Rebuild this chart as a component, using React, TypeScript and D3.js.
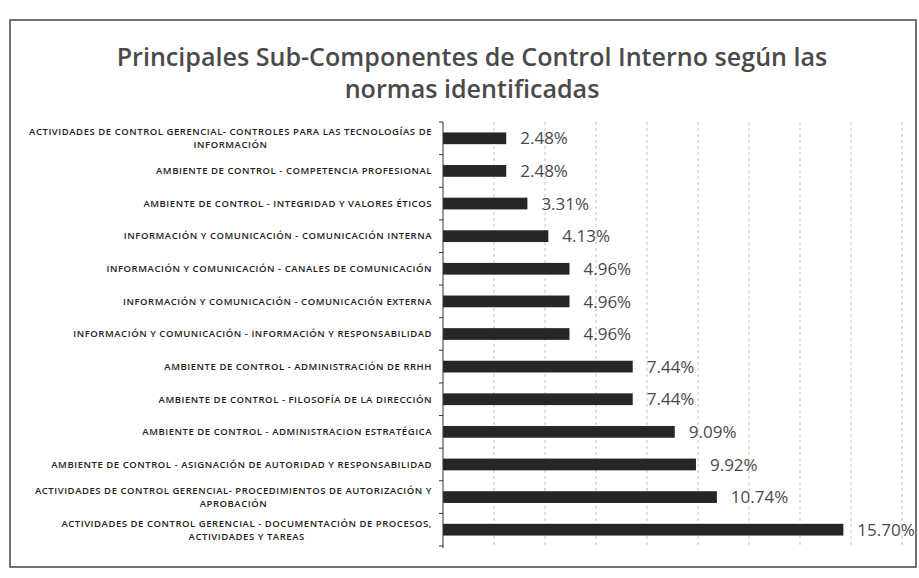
import React, { useEffect, useRef } from 'react'
import * as d3 from 'd3'

// categorías (de arriba hacia abajo), "\n" marca el salto de línea
const categories = [
  'ACTIVIDADES DE CONTROL GERENCIAL- CONTROLES PARA LAS TECNOLOGÍAS DE\nINFORMACIÓN',
  'AMBIENTE DE CONTROL - COMPETENCIA PROFESIONAL',
  'AMBIENTE DE CONTROL - INTEGRIDAD Y VALORES ÉTICOS',
  'INFORMACIÓN Y COMUNICACIÓN - COMUNICACIÓN INTERNA',
  'INFORMACIÓN Y COMUNICACIÓN - CANALES DE COMUNICACIÓN',
  'INFORMACIÓN Y COMUNICACIÓN - COMUNICACIÓN EXTERNA',
  'INFORMACIÓN Y COMUNICACIÓN - INFORMACIÓN Y RESPONSABILIDAD',
  'AMBIENTE DE CONTROL - ADMINISTRACIÓN DE RRHH',
  'AMBIENTE DE CONTROL - FILOSOFÍA DE LA DIRECCIÓN',
  'AMBIENTE DE CONTROL - ADMINISTRACION ESTRATÉGICA',
  'AMBIENTE DE CONTROL - ASIGNACIÓN DE AUTORIDAD Y RESPONSABILIDAD',
  'ACTIVIDADES DE CONTROL GERENCIAL- PROCEDIMIENTOS DE AUTORIZACIÓN Y\nAPROBACIÓN',
  'ACTIVIDADES DE CONTROL GERENCIAL - DOCUMENTACIÓN DE PROCESOS,\nACTIVIDADES Y TAREAS',
]
const values = [2.48, 2.48, 3.31, 4.13, 4.96, 4.96, 4.96, 7.44, 7.44, 9.09, 9.92, 10.74, 15.7]
const gridTicks = [2, 4, 6, 8, 10, 12, 14, 16, 18]
const titleLines = ['Principales Sub-Componentes de Control Interno según las', 'normas identificadas']

const W = 919
const H = 578
const font = '"Open Sans", "Liberation Sans", sans-serif'

const App = () => {
  const svgRef = useRef<SVGSVGElement>(null)

  useEffect(() => {
    const svg = d3.select(svgRef.current)
    svg.selectAll('*').remove()

    const x = d3.scaleLinear().domain([0, 18]).range([443, 902])
    const y = d3.scaleBand<number>()
      .domain(d3.range(categories.length))
      .range([122, 546])
      .paddingInner(0.64)
      .paddingOuter(0.32)

    // marco
    svg.append('rect')
      .attr('x', 10).attr('y', 20)
      .attr('width', 906).attr('height', 547)
      .attr('fill', 'white')
      .attr('stroke', '#444').attr('stroke-width', 1.5)

    // título
    svg.append('text')
      .attr('x', 472).attr('y', 66)
      .attr('text-anchor', 'middle')
      .attr('font-family', font)
      .attr('font-size', 25.1)
      .attr('font-weight', 600)
      .attr('fill', '#4a4a4a')
      .selectAll('tspan')
      .data(titleLines)
      .join('tspan')
      .attr('x', 472)
      .attr('dy', (d, i) => (i === 0 ? 0 : 32))
      .text(d => d)

    // rejilla
    svg.append('g')
      .selectAll('line')
      .data(gridTicks)
      .join('line')
      .attr('x1', d => x(d)).attr('x2', d => x(d))
      .attr('y1', 122).attr('y2', 548)
      .attr('stroke', '#c4c4c4')
      .attr('stroke-dasharray', '3,3')

    // barras
    svg.append('g')
      .selectAll('rect')
      .data(values)
      .join('rect')
      .attr('x', x(0))
      .attr('y', (d, i) => y(i)!)
      .attr('width', d => x(d) - x(0))
      .attr('height', y.bandwidth())
      .attr('fill', '#262626')

    // etiquetas de valor
    svg.append('g')
      .selectAll('text')
      .data(values)
      .join('text')
      .attr('x', d => x(d) + 14)
      .attr('y', (d, i) => y(i)! + y.bandwidth() / 2)
      .attr('dy', '0.36em')
      .attr('font-family', font)
      .attr('font-size', 17)
      .attr('fill', '#4a4a4a')
      .text(d => d3.format('.2f')(d) + '%')

    // eje vertical
    const axis = svg.append('g').attr('stroke', '#333')
    axis.append('line')
      .attr('x1', x(0)).attr('x2', x(0))
      .attr('y1', 122).attr('y2', 548)
    axis.selectAll('line.tick')
      .data(d3.range(categories.length + 1))
      .join('line')
      .attr('class', 'tick')
      .attr('x1', x(0) - 4).attr('x2', x(0))
      .attr('y1', i => 122 + i * y.step())
      .attr('y2', i => 122 + i * y.step())

    // etiquetas de categoría
    const labels = svg.append('g')
      .attr('font-family', font)
      .attr('font-size', 9.5)
      .attr('font-weight', 600)
      .attr('letter-spacing', 0.55)
      .attr('fill', '#222')
    categories.forEach((c, i) => {
      const lines = c.split('\n')
      const cy = y(i)! + y.bandwidth() / 2
      const lh = 13
      const t = labels.append('text')
        .attr('x', 432)
        .attr('text-anchor', 'end')
        .attr('y', cy - ((lines.length - 1) * lh) / 2)
        .attr('dy', '0.35em')
        .text(lines[0])
      if (lines.length > 1) {
        const w = (t.node() as SVGTextElement).getComputedTextLength()
        labels.append('text')
          .attr('x', 432 - w / 2)
          .attr('text-anchor', 'middle')
          .attr('y', cy + lh / 2)
          .attr('dy', '0.35em')
          .text(lines[1])
      }
    })
  }, [])

  return (
    <svg ref={svgRef} width={W} height={H} style={{ position: 'absolute', left: 0, top: 0 }} />
  )
}

export default App
